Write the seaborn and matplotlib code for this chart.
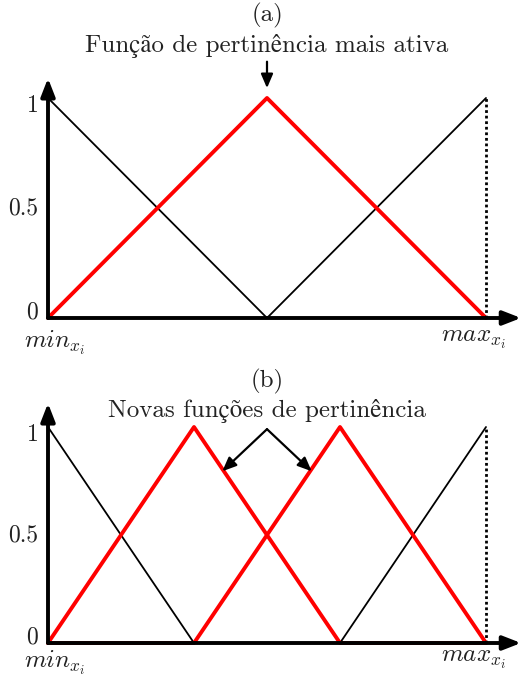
import matplotlib
matplotlib.use("Agg")
import matplotlib.pyplot as plt
import seaborn as sns
import pandas as pd

sns.set_theme(style="white")
plt.rcParams["font.family"] = ["cmr10", "STIXGeneral", "DejaVu Serif"]
plt.rcParams["mathtext.fontset"] = "cm"
plt.rcParams["axes.formatter.use_mathtext"] = True

# Membership functions, panel (a): three triangles over [min, max]
a_x = [0.0, 0.5, 1.0]
a_left = [1.0, 0.0, 0.0]
a_active = [0.0, 1.0, 0.0]
a_right = [0.0, 0.0, 1.0]

# Panel (b): the active function split into two new triangles
b_x = [0.0, 1 / 3, 2 / 3, 1.0]
b_left = [1.0, 0.0, 0.0, 0.0]
b_new1 = [0.0, 1.0, 0.0, 0.0]
b_new2 = [0.0, 0.0, 1.0, 0.0]
b_right = [0.0, 0.0, 0.0, 1.0]

y_ticks = [0, 0.5, 1]
y_tick_labels = ["0", "0.5", "1"]

W, H = 522, 679
fig = plt.figure(figsize=(W / 100, H / 100), dpi=100)
TEXT = "#222222"


def make_axes(x0, x1, y0, y1):
    ax = fig.add_axes([x0 / W, 1 - y0 / H, (x1 - x0) / W, (y0 - y1) / H])
    ax.set_xlim(0, 1)
    ax.set_ylim(0, 1)
    ax.axis("off")
    return ax


def draw_frame(ax, x_tip, y_tip, label_y):
    arrow = dict(arrowstyle="-|>,head_length=0.9,head_width=0.35", color="black",
                 lw=2.8, shrinkA=0, shrinkB=0)
    ax.annotate("", xy=(x_tip, 0), xytext=(0, 0), arrowprops=arrow,
                annotation_clip=False)
    ax.annotate("", xy=(0, y_tip), xytext=(0, 0), arrowprops=arrow,
                annotation_clip=False)
    ax.plot([1, 1], [0, 1], color="black", lw=2.0, ls=(0, (1, 1)), clip_on=False)
    nudge = {0: 0.025, 0.5: 0.0, 1: -0.035}
    for t, lab in zip(y_ticks, y_tick_labels):
        ax.text(-0.022, t + nudge[t], lab, ha="right", va="center", fontsize=17,
                color=TEXT)
    ax.text(-0.055, label_y, r"$min_{x_i}$", ha="left", va="top",
            fontsize=18, color=TEXT)
    ax.text(1.045, label_y, r"$max_{x_i}$", ha="right", va="top",
            fontsize=18, color=TEXT)


def draw_series(ax, xs, ys, color, lw):
    df = pd.DataFrame({"x": xs, "y": ys})
    sns.lineplot(data=df, x="x", y="y", ax=ax, color=color, lw=lw,
                 sort=False, estimator=None, clip_on=False)


head = dict(arrowstyle="-|>,head_length=0.7,head_width=0.3",
            color="black", lw=1.6, shrinkA=0, shrinkB=0)

# Panel (a)
ax1 = make_axes(48, 486, 318, 98)
draw_series(ax1, a_x, a_left, "black", 1.3)
draw_series(ax1, a_x, a_right, "black", 1.3)
draw_series(ax1, a_x, a_active, "#ff0000", 2.8)
draw_frame(ax1, 1.08, 1.09, -0.05)
ax1.text(0.5, 1.375, "(a)", ha="center", va="center", fontsize=18, color=TEXT)
ax1.text(0.5, 1.235, "Função de pertinência mais ativa", ha="center",
         va="center", fontsize=18, color=TEXT)
ax1.annotate("", xy=(0.5, 1.045), xytext=(0.5, 1.165), arrowprops=head,
             annotation_clip=False)
ax1.set_xlabel("")
ax1.set_ylabel("")

# Panel (b)
ax2 = make_axes(48, 486, 643, 427)
draw_series(ax2, b_x, b_left, "black", 1.3)
draw_series(ax2, b_x, b_right, "black", 1.3)
draw_series(ax2, b_x, b_new1, "#ff0000", 2.8)
draw_series(ax2, b_x, b_new2, "#ff0000", 2.8)
draw_frame(ax2, 1.08, 1.11, -0.025)
ax2.text(0.5, 1.21, "(b)", ha="center", va="center", fontsize=18, color=TEXT)
ax2.text(0.5, 1.075, "Novas funções de pertinência", ha="center", va="center",
         fontsize=18, color=TEXT)
for tx in (0.398, 0.602):
    ax2.annotate("", xy=(tx, 0.795), xytext=(0.5, 0.99), arrowprops=head,
                 annotation_clip=False)
ax2.set_xlabel("")
ax2.set_ylabel("")

fig.savefig("out.png", dpi=100)
